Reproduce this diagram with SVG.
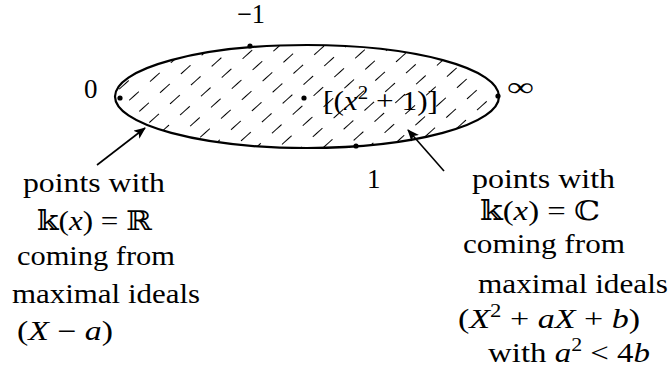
<svg xmlns="http://www.w3.org/2000/svg" width="670" height="385" viewBox="0 0 670 385">
<style>
text{font-family:"Liberation Serif","DejaVu Serif",serif;font-size:27px;fill:#000}
.i{font-style:italic}
.sup{font-size:18px}
.dot{fill:#000}
.arr{stroke:#000;stroke-width:1.6;fill:none;marker-end:url(#ah)}
</style>
<defs>
<pattern id="hatch" patternUnits="userSpaceOnUse" width="28" height="15" patternTransform="translate(3,2) rotate(-42)">
<line x1="0" y1="7.5" x2="13" y2="7.5" stroke="#000" stroke-width="1"/>
</pattern>
<marker id="ah" viewBox="0 0 12 10" refX="11" refY="5" markerWidth="12" markerHeight="10" markerUnits="userSpaceOnUse" orient="auto">
<path d="M0,0 L12,5 L0,10 L3,5 Z" fill="#000"/>
</marker>
</defs>
<g id="region">
<ellipse cx="307" cy="96.5" rx="192" ry="51.5" fill="url(#hatch)" stroke="#000" stroke-width="2.2"/>
</g>
<g id="points">
<circle class="dot" cx="250" cy="46" r="2.6"/>
<circle class="dot" cx="120" cy="98" r="2.6"/>
<circle class="dot" cx="304" cy="98" r="2.6"/>
<circle class="dot" cx="498" cy="96" r="2.6"/>
<circle class="dot" cx="356" cy="146" r="2.6"/>
</g>
<g id="labels">
<text x="237" y="23" textLength="28" lengthAdjust="spacingAndGlyphs" font-size="29">−1</text>
<text x="84" y="98" font-size="29">0</text>
<text x="507" y="96" font-size="36" textLength="27" lengthAdjust="spacingAndGlyphs">∞</text>
<text x="367" y="188">1</text>
<text x="323" y="110" textLength="115" lengthAdjust="spacingAndGlyphs">[(<tspan class="i">x</tspan><tspan class="sup" dy="-11">2</tspan><tspan dy="11"> + 1)]</tspan></text>
</g>
<g id="connectors">
<line class="arr" x1="97" y1="165" x2="145" y2="128"/>
<line class="arr" x1="444" y1="171" x2="408" y2="130"/>
</g>
<g id="left-note">
<text x="23" y="192" textLength="142" lengthAdjust="spacingAndGlyphs">points with</text>
<text x="37" y="230" textLength="115" lengthAdjust="spacingAndGlyphs">𝕜(<tspan class="i">x</tspan>) = ℝ</text>
<text x="17" y="265" textLength="158" lengthAdjust="spacingAndGlyphs">coming from</text>
<text x="12" y="303" textLength="188" lengthAdjust="spacingAndGlyphs">maximal ideals</text>
<text x="17" y="340" textLength="96" lengthAdjust="spacingAndGlyphs">(<tspan class="i">X</tspan> − <tspan class="i">a</tspan>)</text>
</g>
<g id="right-note">
<text x="472" y="188" textLength="143" lengthAdjust="spacingAndGlyphs">points with</text>
<text x="480" y="220" textLength="120" lengthAdjust="spacingAndGlyphs">𝕜(<tspan class="i">x</tspan>) = ℂ</text>
<text x="463" y="253" textLength="162" lengthAdjust="spacingAndGlyphs">coming from</text>
<text x="478" y="293" textLength="190" lengthAdjust="spacingAndGlyphs">maximal ideals</text>
<text x="458" y="328" textLength="182" lengthAdjust="spacingAndGlyphs">(<tspan class="i">X</tspan><tspan class="sup" dy="-11">2</tspan><tspan dy="11"> + </tspan><tspan class="i">aX</tspan> + <tspan class="i">b</tspan>)</text>
<text x="488" y="362" textLength="162" lengthAdjust="spacingAndGlyphs">with <tspan class="i">a</tspan><tspan class="sup" dy="-11">2</tspan><tspan dy="11"> &lt; 4</tspan><tspan class="i">b</tspan></text>
</g>
</svg>
